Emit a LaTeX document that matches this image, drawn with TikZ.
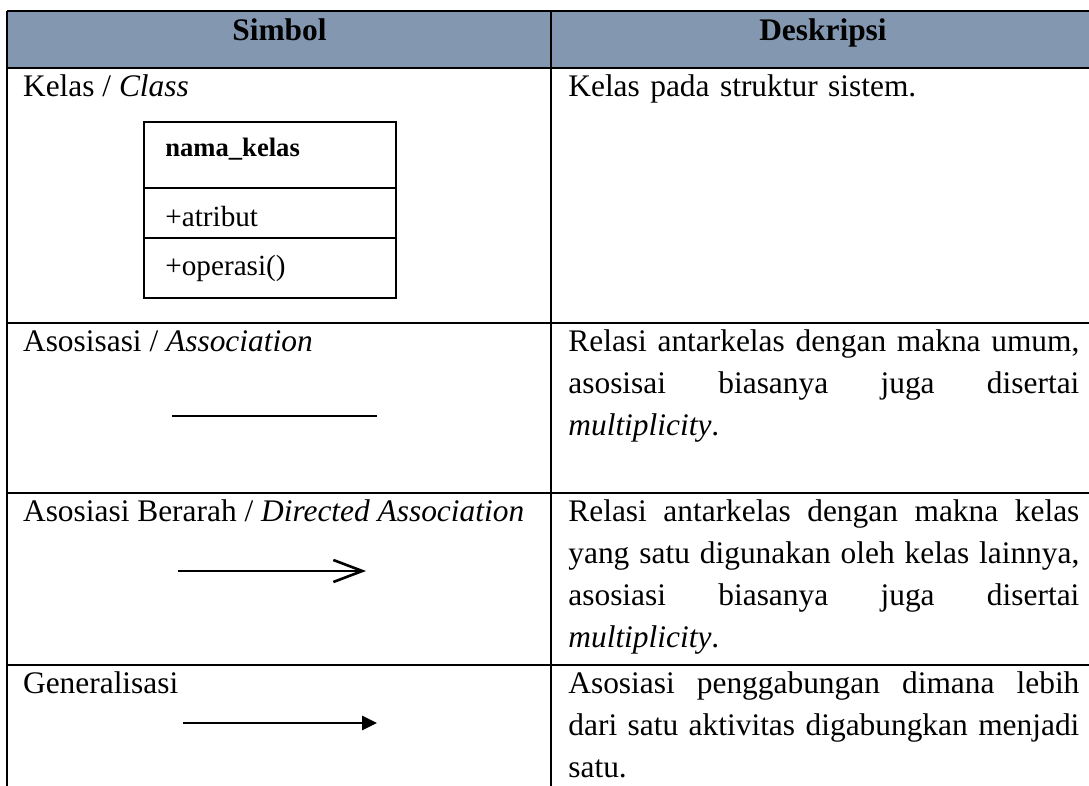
\documentclass[tikz,border=0pt]{standalone}
\usepackage{fontspec}
\setmainfont{Liberation Serif}
\usepackage{tikz}
\usetikzlibrary{arrows.meta}

\newlength{\desclen}
\setlength{\desclen}{255.5pt}
\newcommand{\fullline}[1]{{\spaceskip=0pt\xspaceskip=0pt\makebox[\desclen][s]{#1}}}

\definecolor{headblue}{HTML}{8497B0}

\begin{document}
\begin{tikzpicture}[x=0.5pt,y=-0.5pt,
	grid/.style={line width=1pt},
	cell/.style={anchor=base west,inner sep=0pt,font=\fontsize{15.7}{21}\selectfont},
	desc/.style={cell,text width=\desclen,align=left},
	head/.style={anchor=base,inner sep=0pt,font=\fontsize{15.7}{18}\selectfont\bfseries},
	member/.style={anchor=base west,inner sep=0pt,font=\fontsize{14.6}{17}\selectfont},
	rel/.style={line width=1.3pt}]
	\useasboundingbox (0,0) rectangle (1089,786);
	\clip (0,0) rectangle (1089,786);
	% table frame
	\fill[headblue] (7,11) rectangle (1100,68);
	\draw[grid] (7,11) -- (1100,11);
	\draw[grid] (7,68) -- (1100,68);
	\draw[grid] (7,323) -- (1100,323);
	\draw[grid] (7,493) -- (1100,493);
	\draw[grid] (7,665.5) -- (1100,665.5);
	\draw[grid] (7,11) -- (7,795);
	\draw[grid] (551,11) -- (551,795);
	\node[head] (hsym) at (279.5,40.7) {Simbol};
	\node[head] (hdesc) at (823,40.7) {Deskripsi};
	% class
	\node[cell] (lclass) at (22.7,97) {Kelas / \textit{Class}};
	\draw[grid] (144,122) rectangle (396,298);
	\draw[grid] (144,188) -- (396,188);
	\draw[grid] (144,238) -- (396,238);
	\node[member,font=\fontsize{13.3}{16}\selectfont\bfseries] (kname) at (165,157) {nama\_kelas};
	\node[member] (kattr) at (165,227) {+atribut};
	\node[member] (kop) at (165,276) {+operasi()};
	\node[desc] (dclass) at (568,97) {Kelas pada struktur sistem.};
	% association
	\node[cell] (lassoc) at (22.7,351.5) {Asosisasi / \textit{Association}};
	\coordinate (asA) at (172,416);
	\coordinate (asB) at (377,416);
	\draw[rel] (asA) -- (asB);
	\node[desc] (dassoc) at (568,351.5) {\fullline{Relasi antarkelas dengan makna umum,}\\
		\fullline{asosisai biasanya juga disertai}\\
		\textit{multiplicity}.};
	% directed association
	\node[cell] (ldir) at (22.7,522) {Asosiasi Berarah / \textit{Directed Association}};
	\coordinate (daA) at (178,571);
	\coordinate (daB) at (366,571);
	\draw[rel,-{Straight Barb[length=14.5pt,width=11pt]}] (daA) -- (daB);
	\node[desc] (ddir) at (568,522) {\fullline{Relasi antarkelas dengan makna kelas}\\
		\fullline{yang satu digunakan oleh kelas lainnya,}\\
		\fullline{asosiasi biasanya juga disertai}\\
		\textit{multiplicity}.};
	% generalization
	\node[cell] (lgen) at (22.7,694) {Generalisasi};
	\coordinate (gnA) at (183,723);
	\coordinate (gnB) at (377,723);
	\draw[rel,-{Triangle[length=7.5pt,width=7pt]}] (gnA) -- (gnB);
	\node[desc] (dgen) at (568,694) {\fullline{Asosiasi penggabungan dimana lebih}\\
		\fullline{dari satu aktivitas digabungkan menjadi}\\
		satu.};
\end{tikzpicture}
\end{document}
